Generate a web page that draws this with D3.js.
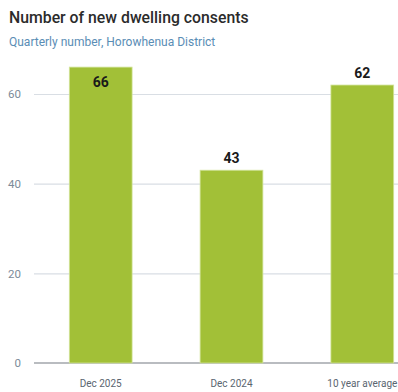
<!DOCTYPE html>
<html><head><meta charset="utf-8">
<script src="https://cdn.jsdelivr.net/npm/d3@7"></script>
<style>body{margin:0;background:#fff;} svg{display:block;font-family:Roboto,sans-serif;}</style>
</head><body>
<svg id="c" width="398" height="392"></svg>
<script>
const categories = ["Dec 2025", "Dec 2024", "10 year average"];
const values = [66, 43, 62];
const yTicks = [0, 20, 40, 60];
const titleText = "Number of new dwelling consents";
const subtitleText = "Quarterly number, Horowhenua District";

const svg = d3.select("#c");
const x = d3.scaleBand().domain(categories).range([34, 429]).paddingInner(0.52).paddingOuter(0.27);
const y = d3.scaleLinear().domain([0, 60]).range([363, 94]);

svg.append("text").attr("x", 9).attr("y", 23).text(titleText)
  .attr("font-size", 15.8).attr("font-weight", 500).attr("fill", "#2b2b2b");
svg.append("text").attr("x", 9).attr("y", 46).text(subtitleText)
  .attr("font-size", 12).attr("fill", "#5a8db5");

const ya = svg.append("g").attr("transform", "translate(34,0)")
  .call(d3.axisLeft(y).tickValues(yTicks).tickSize(-364).tickPadding(13));
ya.select(".domain").remove();
ya.selectAll(".tick line").attr("stroke", "#d9dee4").attr("stroke-width", 1.2);
ya.selectAll(".tick text").attr("fill", "#7d8b99").attr("font-size", 11.5).attr("font-family", "Roboto,sans-serif");

svg.append("line").attr("x1", 34).attr("x2", 398).attr("y1", y(0)).attr("y2", y(0))
  .attr("stroke", "#b9bcc0").attr("stroke-width", 2);

svg.selectAll("rect.bar").data(values).join("rect").attr("class", "bar")
  .attr("x", (d, i) => x(categories[i])).attr("width", x.bandwidth())
  .attr("y", d => y(d)).attr("height", d => y(0) - y(d))
  .attr("fill", "#a2c037").attr("stroke", "#d2e39a").attr("stroke-width", 0.8);

svg.selectAll("text.val").data(values).join("text").attr("class", "val")
  .attr("x", (d, i) => x(categories[i]) + x.bandwidth() / 2)
  .attr("y", d => (y(d) - 18 < 60) ? y(d) + 20 : y(d) - 7)
  .attr("text-anchor", "middle").attr("font-size", 14).attr("font-weight", 700)
  .attr("fill", "#1a1a1a").text(d => d);

const xa = svg.append("g").attr("transform", `translate(0,${y(0)})`)
  .call(d3.axisBottom(x).tickSize(0).tickPadding(17));
xa.select(".domain").remove();
xa.selectAll(".tick text").attr("fill", "#5a6570").attr("font-size", 10).attr("font-family", "Roboto,sans-serif");
</script>
</body></html>
